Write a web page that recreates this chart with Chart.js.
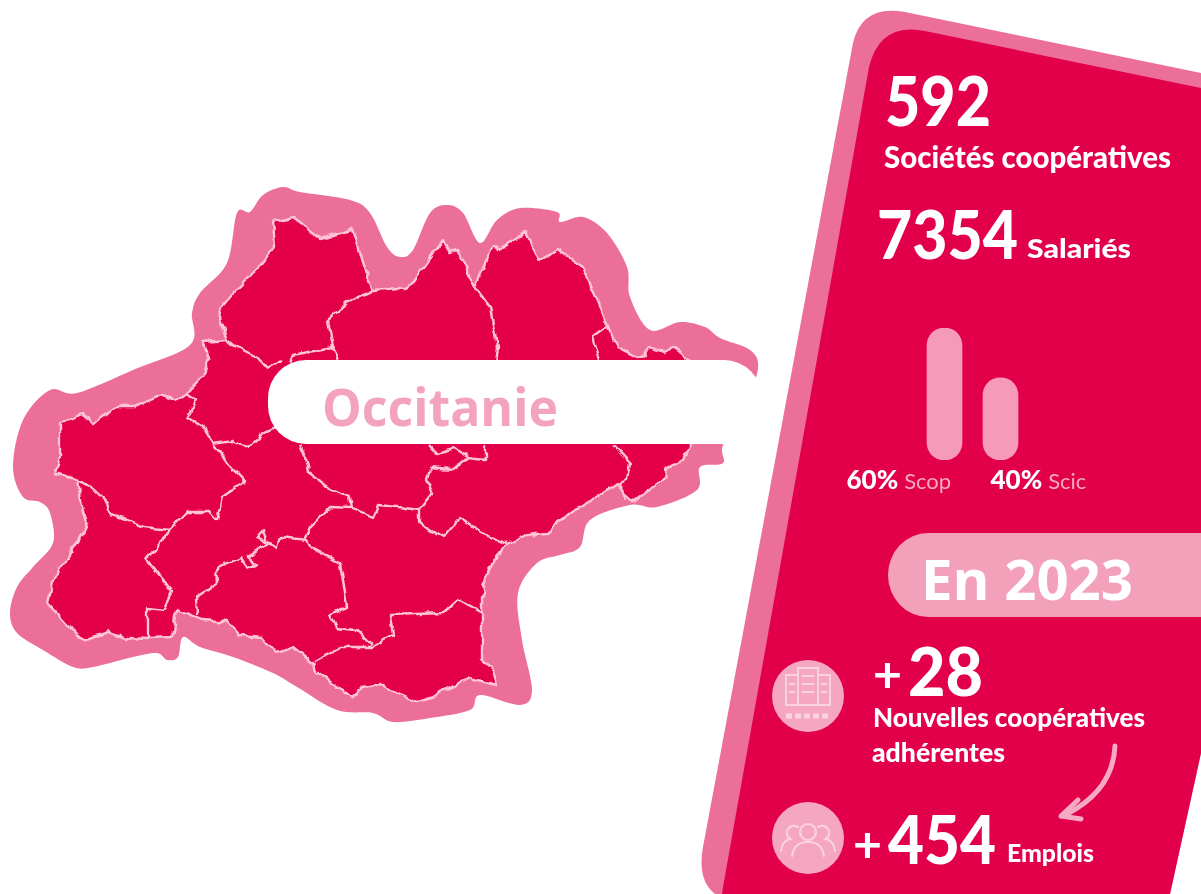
<!DOCTYPE html>
<html lang="fr">
<head>
<meta charset="utf-8">
<title>Occitanie</title>
<script src="https://cdn.jsdelivr.net/npm/chart.js@4"></script>
<style>
  html, body { margin: 0; padding: 0; background: #fff; }
  #page { position: relative; width: 1201px; height: 894px; overflow: hidden; }
  #art { position: absolute; left: 0; top: 0; filter: blur(0.5px); }
  #art text { font-family: Lato, sans-serif; font-weight: 900; fill: #fff; }
  #chartBox { position: absolute; left: 830px; top: 310px; width: 270px; height: 190px; filter: blur(0.5px); }
</style>
</head>
<body>
<div id="page">
  <svg id="art" width="1201" height="894" viewBox="0 0 1201 894">
    <defs>
      <!-- makes the department borders wiggle like the real ones -->
      <filter id="rough" x="-5%" y="-5%" width="110%" height="110%">
        <feTurbulence type="fractalNoise" baseFrequency="0.085" numOctaves="2" seed="3" result="noise"/>
        <feDisplacementMap in="SourceGraphic" in2="noise" scale="7" xChannelSelector="R" yChannelSelector="G" result="moved"/>
        <feGaussianBlur in="moved" stdDeviation="0.45"/>
      </filter>
    </defs>
    <!-- halo around the region, smoothed in the script below -->
    <path id="halo" fill="#ec6f99"
      d="M283 187 L300 192 L350 200 L370 213 L387 247 L400 257 L413 250 L430 213 L447 205 L463 213 L480 243 L497 220 L520 208 L557 212 L560 222 L583 217 L607 233 L627 267 L630 297 L650 330 L680 322 L705 327 L720 338 L750 350 L758 368 L745 405 L723 445 L723 463 L700 467 L697 490 L657 507 L630 505 L590 520 L580 547 L560 555 L537 563 L518 593 L522 640 L532 690 L520 705 L480 695 L470 710 L430 718 L393 722 L373 713 L337 710 L297 687 L273 673 L233 657 L200 647 L183 637 L178 657 L167 660 L157 653 L133 657 L93 667 L73 667 L43 650 L17 633 L10 613 L17 587 L33 567 L53 543 L50 513 L40 502 L23 497 L13 467 L23 420 L50 390 L77 393 L133 370 L190 345 L192 313 L200 293 L227 263 L237 213 L250 212 L263 195 Z"/>
    <g filter="url(#rough)">
      <!-- land -->
      <path fill="#e3004a" stroke="#ffc4d8" stroke-width="2.4" stroke-linejoin="round"
        d="M60 423 L83 413 L93 425 L113 407 L133 407 L163 395 L177 400 L187 393 L203 377 L210 357 L203 342 L227 340 L218 310 L240 285 L258 267 L275 245 L273 222 L293 218 L320 238 L353 230 L370 283 L373 290 L400 288 L408 290 L423 267 L443 240 L450 252 L457 250 L475 287 L493 245 L500 250 L525 232 L540 260 L558 250 L583 267 L603 313 L612 337 L617 347 L637 357 L643 355 L650 347 L663 352 L673 348 L690 360 L690 445 L683 460 L665 470 L667 477 L633 502 L623 493 L617 483 L597 497 L570 513 L547 533 L527 535 L503 547 L487 573 L482 597 L482 660 L493 670 L497 685 L470 678 L450 687 L433 697 L417 702 L403 695 L380 685 L363 688 L352 698 L343 690 L315 672 L313 663 L293 647 L277 653 L263 637 L240 635 L227 622 L203 620 L177 610 L173 637 L148 638 L130 637 L125 640 L110 632 L82 640 L47 603 L52 583 L87 527 L82 507 L78 480 L55 473 L60 457 Z"/>
      <!-- department borders -->
      <g fill="none" stroke="#ffc4d8" stroke-width="2.4" stroke-linejoin="round">
        <path d="M78 480 L90 487 L107 503 L110 515 L123 518 L143 527 L170 530 L147 560 L160 577 L172 592 L163 610 L148 608 L148 638"/>
        <path d="M170 530 L187 512 L210 512 L217 520 L222 497 L245 482 L227 463 L213 443"/>
        <path d="M187 393 L197 400 L187 417 L203 427 L213 443 L233 440 L248 447 L263 433 L275 427"/>
        <path d="M227 340 L233 345 L257 357 L267 368 L283 360"/>
        <path d="M373 290 L347 303 L328 320 L333 347 L293 355 L290 362"/>
        <path d="M333 347 L340 360"/>
        <path d="M475 287 L490 307 L497 347 L495 362"/>
        <path d="M607 327 L593 337 L600 360"/>
        <path d="M613 445 L630 463 L627 480 L620 483 L625 500"/>
        <path d="M430 445 L437 453 L453 448 L468 457"/>
        <path d="M485 445 L485 460 L468 458 L452 470 L430 468 L427 480 L433 493 L420 510 L420 522 L430 530 L443 538 L460 518 L480 533 L507 543"/>
        <path d="M420 510 L397 507 L378 505 L373 517 L352 508 L330 507 L310 527 L305 538 L310 547 L340 563 L345 593 L347 607 L330 615 L337 628 L357 630 L372 645"/>
        <path d="M352 508 L350 497 L330 488 L308 472 L305 457 L300 445"/>
        <path d="M307 540 L280 537 L277 547 L257 537 L263 530 L267 543 L247 557 L257 565 L247 568 L240 558 L217 567 L218 583 L197 597 L198 615"/>
        <path d="M315 662 L343 647 L372 647 L393 635 L390 615 L443 613 L457 600 L482 613"/>
      </g>
    </g>
    <!-- name pill -->
    <rect x="268" y="360" width="494" height="84" rx="38" fill="#fff"/>
    <text x="322" y="426" font-size="52" textLength="236" lengthAdjust="spacingAndGlyphs" style="font-family:'Open Sans',sans-serif;font-weight:700;fill:#f3a3bd">Occitanie</text>

    <!-- right panel -->
    <path fill="#ec6f99" d="M1201 73 L905 12 Q862 4 853 43 L703 847 Q697 880 715 894 L1170 894 L1201 753 Z"/>
    <path fill="#e3004a" d="M1201 88 L925 31 Q880 22 869 67 L723 887 L722 894 L1170 894 L1201 753 Z"/>

    <text x="885" y="126" font-size="68" textLength="106" lengthAdjust="spacingAndGlyphs">592</text>
    <text x="884" y="168" font-size="30" textLength="287" lengthAdjust="spacingAndGlyphs">Sociétés coopératives</text>
    <text x="877" y="259" font-size="66" textLength="141" lengthAdjust="spacingAndGlyphs">7354</text>
    <text x="1027" y="258" font-size="26" textLength="104" lengthAdjust="spacingAndGlyphs">Salariés</text>

    <path d="M928 533 H1201 V617 H928 A40 42 0 0 1 928 533 Z" fill="#f3a0bb"/>
    <text x="921" y="600" font-size="56" textLength="212" lengthAdjust="spacingAndGlyphs" style="font-family:'Open Sans',sans-serif;font-weight:700">En 2023</text>

    <circle cx="808" cy="696" r="36" fill="#f5a6c0"/>
    <g fill="none" stroke="#fbd3e0" stroke-width="2">
      <rect x="786" y="675" width="12" height="30"/>
      <rect x="798" y="668" width="20" height="37"/>
      <rect x="818" y="675" width="12" height="30"/>
      <path d="M802 676 h12 M802 684 h12 M802 692 h12 M789 684 h6 M789 692 h6 M821 684 h6 M821 692 h6"/>
      <path d="M786 716 h44" stroke-dasharray="6 3" stroke-width="5"/>
    </g>
    <circle cx="808" cy="838" r="36" fill="#f5a6c0"/>
    <g fill="none" stroke="#fbd3e0" stroke-width="2.2" stroke-linecap="round">
      <circle cx="808" cy="832" r="8"/>
      <path d="M792 856 q2 -14 16 -14 q14 0 16 14"/>
      <path d="M798 827 a7 7 0 1 0 -8 12 q-8 2 -9 12"/>
      <path d="M818 827 a7 7 0 1 1 8 12 q8 2 9 12"/>
    </g>

    <text x="873" y="692" font-size="50" style="font-weight:700">+</text>
    <text x="908" y="696" font-size="66" textLength="75" lengthAdjust="spacingAndGlyphs">28</text>
    <text x="873" y="727" font-size="27" textLength="272" lengthAdjust="spacingAndGlyphs">Nouvelles coopératives</text>
    <text x="872" y="762" font-size="27" textLength="133" lengthAdjust="spacingAndGlyphs">adhérentes</text>

    <path d="M1115 746 Q1113 790 1067 814" fill="none" stroke="#f6a9c2" stroke-width="5" stroke-linecap="round"/>
    <path d="M1061 816 L1078 800 M1061 816 L1081 819" fill="none" stroke="#f6a9c2" stroke-width="5" stroke-linecap="round"/>

    <text x="853" y="862" font-size="50" style="font-weight:700">+</text>
    <text x="888" y="864" font-size="66" textLength="108" lengthAdjust="spacingAndGlyphs">454</text>
    <text x="1007" y="862" font-size="25" textLength="87" lengthAdjust="spacingAndGlyphs">Emplois</text>
  </svg>

  <div id="chartBox"><canvas id="shareChart" width="270" height="190"></canvas></div>
</div>

<script>
// Values
const categories = ["Scop", "Scic"];
const shares = [60, 40];
const shareLabels = ["60%", "40%"];

// Round off the halo outline (catmull-rom to bezier)
const halo = document.getElementById("halo");
const nums = halo.getAttribute("d").match(/\d+/g).map(Number);
const pts = [];
for (let i = 0; i < nums.length; i += 2) pts.push([nums[i], nums[i + 1]]);
let d = "M" + pts[0].join(" ");
pts.forEach((p, i) => {
  const p0 = pts[(i - 1 + pts.length) % pts.length];
  const p2 = pts[(i + 1) % pts.length];
  const p3 = pts[(i + 2) % pts.length];
  d += ` C${p[0] + (p2[0] - p0[0]) / 6} ${p[1] + (p2[1] - p0[1]) / 6} ${p2[0] - (p3[0] - p[0]) / 6} ${p2[1] - (p3[1] - p[1]) / 6} ${p2[0]} ${p2[1]}`;
});
halo.setAttribute("d", d + " Z");

// Labels sit off-centre below the bars, percent in white and name in pink
const labelOffsets = [-98, -10];
const barLabels = {
  id: "barLabels",
  afterDraw(chart) {
    const ctx = chart.ctx;
    const xScale = chart.scales.x;
    ctx.save();
    ctx.textBaseline = "alphabetic";
    categories.forEach((name, i) => {
      const x = xScale.getPixelForValue(i) + labelOffsets[i];
      ctx.font = "900 26px Lato, sans-serif";
      ctx.fillStyle = "#fff";
      ctx.fillText(shareLabels[i], x, 179);
      const w = ctx.measureText(shareLabels[i]).width;
      ctx.font = "400 22px Lato, sans-serif";
      ctx.fillStyle = "#f7a8c1";
      ctx.fillText(name, x + w + 6, 179);
    });
    ctx.restore();
  },
};

const ctx = document.getElementById("shareChart").getContext("2d");
new Chart(ctx, {
  type: "bar",
  data: {
    labels: categories,
    datasets: [
      {
        data: shares,
        base: 7,
        backgroundColor: "#f59ab8",
        barThickness: 35,
        borderRadius: { topLeft: 18, topRight: 18, bottomLeft: 18, bottomRight: 18 },
        borderSkipped: false,
      },
    ],
  },
  options: {
    responsive: false,
    animation: false,
    layout: { padding: { left: 86.5, right: 71.5, top: 18, bottom: 40 } },
    plugins: { legend: { display: false }, tooltip: { enabled: false } },
    scales: {
      x: { display: false },
      y: { display: false, min: 7, max: 60 },
    },
  },
  plugins: [barLabels],
});
</script>
</body>
</html>
